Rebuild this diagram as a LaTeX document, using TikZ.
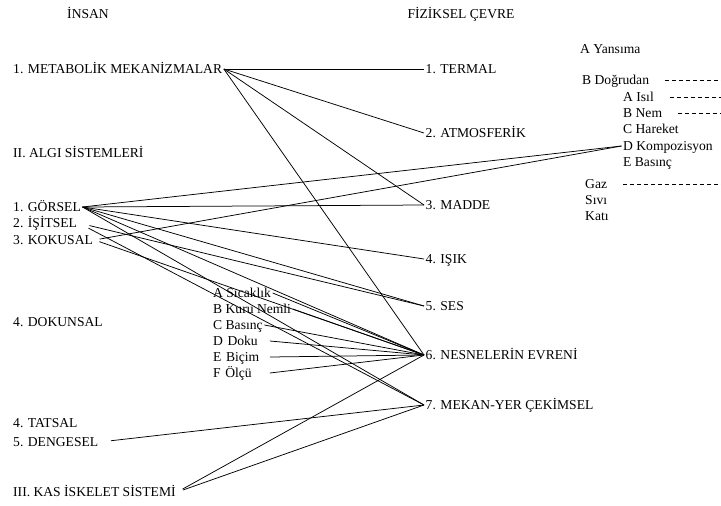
\documentclass[tikz,border=0pt]{standalone}
\usepackage{fontspec}
\setmainfont{Liberation Serif}

\begin{document}
\begin{tikzpicture}[x=1pt, y=-1pt,
  lbl/.style={anchor=west, inner sep=1.5pt, text height=9pt, text depth=0pt, font=\fontsize{13.6pt}{16pt}\selectfont},
  ttl/.style={lbl, anchor=center},
  subw/.style={lbl, text width=55pt},
  ln/.style={line width=0.75pt},
  dsh/.style={line width=0.7pt, dash pattern=on 4.5pt off 2.5pt, shorten <=14pt}
]
  \useasboundingbox (0,0) rectangle (721,506);
  \coordinate (rim) at (721,0);

  \node[ttl] (insan) at (88,14) {İNSAN};
  \node[ttl] (fiz) at (461,14) {FİZİKSEL ÇEVRE};

  % insan
  \node[lbl] (met) at (11.5,69) {1. METABOLİK MEKANİZMALAR};
  \node[lbl] (algi) at (11.5,153) {II. ALGI SİSTEMLERİ};
  \node[lbl] (gorsel) at (11.5,207) {1. GÖRSEL};
  \node[lbl] (isitsel) at (11.5,223) {2. İŞİTSEL};
  \node[lbl] (kokusal) at (11.5,240) {3. KOKUSAL};
  \node[lbl] (dokunsal) at (11.5,322) {4. DOKUNSAL};
  \node[lbl] (tatsal) at (11.5,423) {4. TATSAL};
  \node[lbl] (denge) at (11.5,442) {5. DENGESEL};
  \node[lbl] (kas) at (11.5,492) {III. KAS İSKELET SİSTEMİ};

  \node[lbl] (sicak) at (211.5,293) {A Sıcaklık};
  \node[lbl] (kuru) at (211.5,309) {B Kuru Nemli};
  \node[lbl] (basinc) at (211.5,325) {C Basınç};
  \node[subw] (doku) at (211.5,341) {D Doku};
  \node[subw] (bicim) at (211.5,357) {E Biçim};
  \node[subw] (olcu) at (211.5,373) {F Ölçü};

  % fiziksel cevre
  \node[lbl] (termal) at (424,69) {1. TERMAL};
  \node[lbl] (atmos) at (424,133) {2. ATMOSFERİK};
  \node[lbl] (madde) at (424,205) {3. MADDE};
  \node[lbl] (isik) at (424,259) {4. IŞIK};
  \node[lbl] (ses) at (424,306) {5. SES};
  \node[lbl] (nesne) at (424,355) {6. NESNELERİN EVRENİ};
  \node[lbl] (mekan) at (424,405) {7. MEKAN-YER ÇEKİMSEL};

  \node[lbl] (yansima) at (578.5,49) {A Yansıma};
  \node[lbl] (dogru) at (580.5,80) {B Doğrudan};
  \node[lbl] (isil) at (621.5,97) {A Isıl};
  \node[lbl] (nem) at (621.5,113) {B Nem};
  \node[lbl] (hareket) at (621.5,129) {C Hareket};
  \node[lbl] (kompoz) at (621.5,146) {D Kompozisyon};
  \node[lbl] (fbasinc) at (621.5,162) {E Basınç};
  \node[lbl] (gaz) at (583.5,184) {Gaz};
  \node[lbl] (sivi) at (583.5,200) {Sıvı};
  \node[lbl] (kati) at (583.5,216) {Katı};

  \draw[dsh] (dogru.east) -- (dogru.east -| rim);
  \draw[dsh] (isil.east) -- (isil.east -| rim);
  \draw[dsh] (nem.east) -- (nem.east -| rim);
  \draw[dsh] (gaz.east) -- (gaz.east -| rim);

  \draw[ln] (met.east) -- (termal.west);
  \draw[ln] (met.east) -- (atmos.west);
  \draw[ln] (met.east) -- (madde.west);
  \draw[ln] (met.east) -- (nesne.west);

  \draw[ln] (gorsel.east) -- (kompoz.west);
  \draw[ln] (gorsel.east) -- (madde.west);
  \draw[ln] (gorsel.east) -- (isik.west);
  \draw[ln] (gorsel.east) -- (ses.west);
  \draw[ln] (gorsel.east) -- (nesne.west);
  \draw[ln] (gorsel.east) -- (mekan.west);
  \draw[ln, shorten <=11pt] (isitsel.east) -- (ses.west);
  \draw[ln, shorten <=11pt] (isitsel.east) -- (mekan.west);
  \draw[ln, shorten <=5pt] (kokusal.east) -- (kompoz.west);
  \draw[ln, shorten <=5pt] (kokusal.east) -- (nesne.west);

  \foreach \s in {sicak,kuru,basinc,doku,bicim,olcu}
    \draw[ln] (\s.east) -- (nesne.west);

  \draw[ln, shorten <=11pt] (denge.east) -- (mekan.west);
  \draw[ln, shorten <=6pt] (kas.east) -- (nesne.west);
  \draw[ln, shorten <=6pt] (kas.east) -- (mekan.west);
\end{tikzpicture}
\end{document}
